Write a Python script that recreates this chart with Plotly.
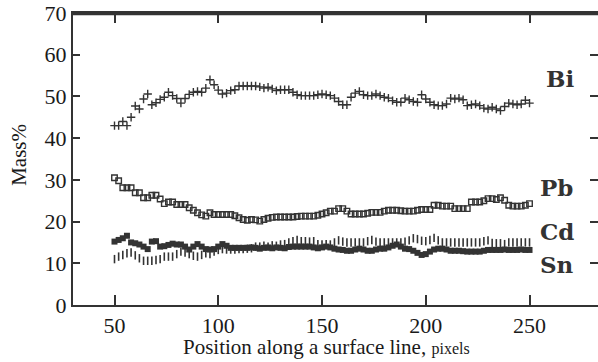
import plotly.graph_objects as go

position = list(range(50, 251, 2))

bi = [43.0, 43.0, 44.0, 43.0, 45.0, 47.7, 47.0, 49.4, 50.6, 48.0,
      48.5, 49.3, 49.8, 51.0, 50.2, 49.5, 48.4, 49.5, 50.5, 51.0,
      51.2, 51.0, 52.0, 54.0, 52.8, 51.5, 50.6, 50.8, 51.4, 51.6,
      52.5, 52.5, 52.5, 52.5, 52.5, 52.3, 52.0, 52.2, 51.8, 51.4,
      51.6, 51.6, 51.6, 51.0, 50.4, 50.2, 50.2, 50.2, 50.2, 50.4,
      50.6, 50.4, 50.2, 49.6, 48.8, 48.0, 48.0, 49.8, 50.8, 51.2,
      50.4, 50.2, 50.2, 50.6, 50.2, 49.8, 49.6, 49.0, 48.6, 48.6,
      49.6, 49.2, 48.8, 48.6, 50.4, 49.4, 48.6, 48.0, 47.8, 47.8,
      48.2, 49.6, 49.4, 49.6, 49.2, 47.8, 48.0, 48.2, 47.8, 47.2,
      47.0, 47.4, 47.0, 46.6, 47.6, 48.4, 48.2, 48.0, 48.2, 49.1,
      48.4]

pb = [30.5, 29.8, 28.1, 28.1, 28.1, 26.9, 26.9, 25.7, 25.7, 26.3,
      26.3, 25.4, 24.3, 24.7, 24.7, 24.1, 24.1, 24.1, 23.3, 22.7,
      22.1, 21.6, 21.3, 22.1, 21.7, 21.7, 21.7, 21.7, 21.7, 21.4,
      20.9, 20.5, 20.3, 20.5, 20.4, 20.1, 20.5, 20.8, 21.0, 21.1,
      21.1, 21.1, 21.1, 21.1, 21.2, 21.3, 21.3, 21.3, 21.3, 21.5,
      21.8, 22.1, 22.5, 22.5, 23.1, 23.1, 22.5, 21.8, 21.8, 21.8,
      21.8, 22.0, 22.2, 22.2, 22.2, 22.5, 22.7, 22.7, 22.7, 22.6,
      22.5, 22.5, 22.5, 22.7, 22.9, 22.9, 22.9, 23.9, 23.9, 23.7,
      23.7, 23.7, 23.1, 23.1, 23.1, 23.1, 24.7, 24.7, 24.7, 25.0,
      25.5, 25.5, 25.3, 25.7, 25.1, 23.9, 23.7, 23.7, 23.7, 23.9,
      24.3]

sn = [15.2, 15.6, 16.0, 16.6, 15.0, 14.8, 14.5, 14.0, 13.4, 15.2,
      15.3, 14.0, 14.1, 14.4, 14.7, 14.5, 14.5, 14.0, 13.3, 14.0,
      14.6, 14.0, 13.4, 13.3, 13.4, 14.0, 14.6, 14.2, 13.7, 13.7,
      13.7, 13.7, 13.7, 13.8, 13.7, 13.5, 13.7, 13.8, 13.6, 13.8,
      13.7, 13.6, 13.9, 14.0, 14.0, 14.0, 14.0, 14.0, 13.8, 13.6,
      13.8, 14.0, 13.8, 13.5, 13.3, 13.2, 13.0, 13.0, 13.3, 13.5,
      13.3, 13.0, 13.0, 13.3, 13.5, 13.5, 13.8, 14.2, 14.5, 14.0,
      13.5, 13.4, 13.0, 12.5, 12.0, 12.2, 12.8, 13.3, 13.5, 13.5,
      13.3, 13.0, 13.0, 13.0, 12.9, 12.8, 12.8, 12.8, 12.8, 13.0,
      13.2, 13.2, 13.2, 13.2, 13.3, 13.2, 13.2, 13.2, 13.3, 13.2,
      13.2]

cd = [11.0, 11.6, 12.0, 12.4, 12.6, 11.9, 11.2, 10.6, 10.6, 10.6,
      10.8, 11.0, 11.6, 11.6, 11.6, 12.2, 12.8, 12.6, 12.2, 11.8,
      11.6, 12.0, 12.4, 12.2, 12.8, 13.2, 13.4, 13.3, 13.3, 13.3,
      13.4, 13.4, 13.5, 13.6, 14.0, 14.0, 14.2, 14.0, 14.3, 14.2,
      14.5, 14.6, 15.0, 15.3, 15.6, 15.3, 15.3, 15.2, 15.3, 14.6,
      14.5, 14.6, 14.5, 15.0, 15.5, 15.2, 15.0, 15.0, 15.0, 15.0,
      15.0, 15.3, 15.6, 15.2, 15.0, 15.0, 15.0, 15.0, 15.0, 15.0,
      15.2, 15.5, 16.0, 15.8, 15.4, 15.3, 15.6, 16.1, 15.5, 15.0,
      15.0, 15.0, 15.0, 15.0, 15.0, 15.0, 15.0, 15.0, 15.0, 15.3,
      15.5, 14.9, 14.8, 14.8, 14.6, 15.0, 15.0, 15.0, 15.0, 15.0,
      15.0]

x_ticks = [50, 100, 150, 200, 250]
y_ticks = [0, 10, 20, 30, 40, 50, 60, 70]
labels = ["Bi", "Pb", "Cd", "Sn"]
label_y = [54.2, 28.2, 17.6, 9.6]
label_x = [264.5, 263.0, 263.0, 263.0]

INK = "#333333"
TXT = "#1a1a1a"
fig = go.Figure()

fig.add_trace(go.Scatter(x=position, y=cd, mode="markers", name="Cd",
                         marker=dict(symbol="line-ns", size=6, color=INK,
                                     line=dict(width=1.6, color=INK))))
fig.add_trace(go.Scatter(x=position, y=sn, mode="markers", name="Sn",
                         marker=dict(symbol="square", size=6, color=INK,
                                     line=dict(width=0))))
fig.add_trace(go.Scatter(x=position, y=pb, mode="markers", name="Pb",
                         marker=dict(symbol="square-open", size=5.5, color=INK,
                                     line=dict(width=1.4, color=INK))))
fig.add_trace(go.Scatter(x=position, y=bi, mode="markers", name="Bi",
                         marker=dict(symbol="cross-thin", size=6, color=INK,
                                     line=dict(width=1.4, color=INK))))
# invisible trace so the right-hand tick axis is drawn
fig.add_trace(go.Scatter(x=[position[0]], y=[0], yaxis="y2", mode="markers",
                         marker=dict(opacity=0), showlegend=False, hoverinfo="skip"))

for name, yv, xc in zip(labels, label_y, label_x):
    fig.add_annotation(x=xc, y=yv, xref="x", yref="y", text=name, showarrow=False,
                       xanchor="center", yanchor="middle",
                       font=dict(family="DejaVu Serif", size=23, color=INK, weight="bold"))

fig.add_annotation(x=0.482, y=-0.145, xref="paper", yref="paper", xanchor="center",
                   yanchor="middle", showarrow=False,
                   text="Position along a surface line, <span style='font-size:16px'>pixels</span>",
                   font=dict(family="Liberation Serif", size=21, color=TXT))
fig.add_annotation(x=-0.103, y=0.514, xref="paper", yref="paper", xanchor="center",
                   yanchor="middle", showarrow=False, textangle=-90, text="Mass%",
                   font=dict(family="Liberation Serif", size=21, color=TXT))

# top frame line, drawn slightly inside the plot top so it cannot be clipped
fig.add_shape(type="line", xref="paper", yref="paper", x0=0, x1=1, y0=0.997, y1=0.997,
              line=dict(color=INK, width=2.5), layer="above")

fig.update_layout(
    width=598, height=362,
    margin=dict(l=73, r=0, t=13, b=57),
    plot_bgcolor="white", paper_bgcolor="white",
    showlegend=False,
    font=dict(family="Liberation Serif", size=22, color=TXT),
    xaxis=dict(range=[30, 283], tickvals=x_ticks, ticks="inside", ticklen=10,
               tickwidth=2, tickcolor=INK, showline=True, linewidth=2, linecolor=INK,
               mirror="ticks", showgrid=False, zeroline=False, ticklabeloverflow="allow",
               tickfont=dict(family="Liberation Serif", size=22, color=TXT)),
    yaxis=dict(range=[0, 70], tickvals=y_ticks, ticks="inside", ticklen=7,
               tickwidth=2, tickcolor=INK, showline=True, linewidth=2, linecolor=INK,
               mirror=False, showgrid=False, zeroline=False, ticklabeloverflow="allow",
               tickfont=dict(family="Liberation Serif", size=22, color=TXT)),
    yaxis2=dict(range=[0, 70], tickvals=y_ticks, overlaying="y", side="right",
                anchor="x", ticks="inside", ticklen=8, tickwidth=2, tickcolor=INK,
                showticklabels=False, showline=False, showgrid=False, zeroline=False),
)

fig.write_html("out.html", config={"displayModeBar": False},
               post_script="document.body.style.margin='0';document.body.style.overflow='hidden';")
